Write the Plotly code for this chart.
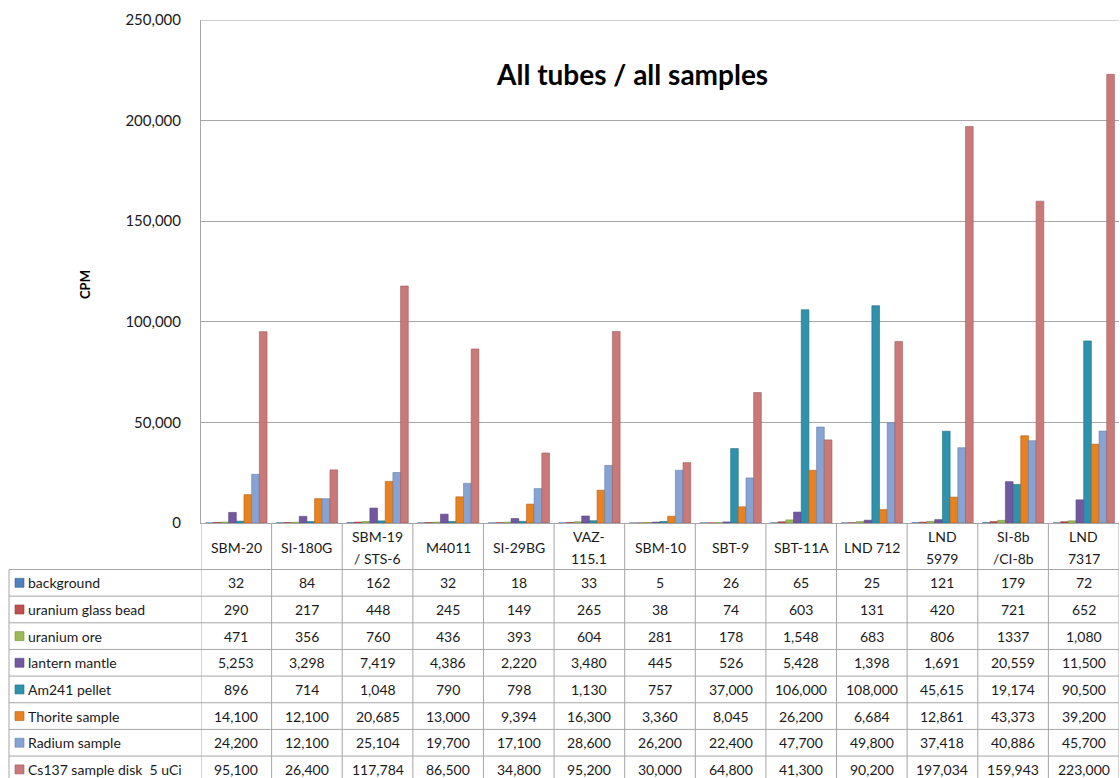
import plotly.graph_objects as go

W, H = 1120, 778

categories = ["SBM-20", "SI-180G", "SBM-19\n/ STS-6", "M4011", "SI-29BG", "VAZ-\n115.1",
              "SBM-10", "SBT-9", "SBT-11A", "LND 712", "LND\n5979", "SI-8b\n/CI-8b", "LND\n7317"]

series_names = ["background", "uranium glass bead", "uranium ore", "lantern mantle",
                "Am241 pellet", "Thorite sample", "Radium sample", "Cs137 sample disk  5 uCi"]

background = [32, 84, 162, 32, 18, 33, 5, 26, 65, 25, 121, 179, 72]
uranium_glass_bead = [290, 217, 448, 245, 149, 265, 38, 74, 603, 131, 420, 721, 652]
uranium_ore = [471, 356, 760, 436, 393, 604, 281, 178, 1548, 683, 806, 1337, 1080]
lantern_mantle = [5253, 3298, 7419, 4386, 2220, 3480, 445, 526, 5428, 1398, 1691, 20559, 11500]
am241_pellet = [896, 714, 1048, 790, 798, 1130, 757, 37000, 106000, 108000, 45615, 19174, 90500]
thorite_sample = [14100, 12100, 20685, 13000, 9394, 16300, 3360, 8045, 26200, 6684, 12861, 43373, 39200]
radium_sample = [24200, 12100, 25104, 19700, 17100, 28600, 26200, 22400, 47700, 49800, 37418, 40886, 45700]
cs137_disk = [95100, 26400, 117784, 86500, 34800, 95200, 30000, 64800, 41300, 90200, 197034, 159943, 223000]

series_values = [background, uranium_glass_bead, uranium_ore, lantern_mantle,
                 am241_pellet, thorite_sample, radium_sample, cs137_disk]

# cells shown without thousands separator in the source table
plain_cells = {(2, 11)}

colors = ["#4F81BD", "#C0504D", "#9BBB59", "#7358A0", "#2E92AD", "#E8811F", "#86A3D4", "#C97A78"]
edge = ["#3A6396", "#953B39", "#76913F", "#5A4480", "#206F84", "#B4621A", "#6580AE", "#9E5A59"]

y_ticks = [0, 50000, 100000, 150000, 200000, 250000]

FONT = "Lato"
GRID = "#A6A6A6"

x_keys = [c.replace("\n", " ") for c in categories]

fig = go.Figure()
for name, vals, c, e in zip(series_names, series_values, colors, edge):
    fig.add_trace(go.Bar(x=x_keys, y=vals, name=name, marker=dict(color=c, line=dict(color=e, width=0.6)),
                         showlegend=False))

def py(p):
    return 1 - p / H

x0_px, x1_px = 201, 1119
axis_top, axis_bot = 20, 523
head_bot = 569.5
row_h = 26.65
left_px = 9

fig.update_layout(
    width=W, height=H, margin=dict(l=0, r=0, t=0, b=0, autoexpand=False),
    paper_bgcolor="white", plot_bgcolor="white",
    barmode="group", bargap=0.13, bargroupgap=0,
    font=dict(family=FONT, size=14, color="#1a1a1a"),
    xaxis=dict(domain=[x0_px / W, x1_px / W], showticklabels=False, showline=True,
               linecolor=GRID, linewidth=1, ticks="", showgrid=False, fixedrange=True,
               automargin=False, range=[-0.5, len(categories) - 0.5]),
    yaxis=dict(domain=[py(axis_bot), py(axis_top)], range=[0, 250000], tickvals=y_ticks,
               tickformat=",", showgrid=True, gridcolor=GRID, gridwidth=1, zeroline=False,
               showline=True, linecolor=GRID, linewidth=1, ticks="", ticklabelstandoff=16,
               automargin=False, tickfont=dict(size=15, color="#1a1a1a", family=FONT)),
)

shapes = []
annotations = []

# top grid line at 250,000
shapes.append(dict(type="line", xref="paper", yref="y", x0=x0_px / W, x1=x1_px / W, y0=250000, y1=250000,
                   line=dict(color=GRID, width=1)))

# title
annotations.append(dict(text="<b>All tubes / all samples</b>", xref="paper", yref="paper",
                        x=632 / W, y=py(74), showarrow=False, xanchor="center", yanchor="middle",
                        font=dict(size=28, family=FONT, color="#000")))
# y title
annotations.append(dict(text="<b>CPM</b>", xref="paper", yref="paper", x=85 / W, y=py(285),
                        textangle=-90, showarrow=False, xanchor="center", yanchor="middle",
                        font=dict(size=13, family=FONT, color="#000")))

n_rows = len(series_names)
bottom_px = head_bot + row_h * n_rows

# vertical separators (category boundaries)
for k in range(len(categories) + 1):
    shapes.append(dict(type="line", xref="x", yref="paper", x0=k - 0.5, x1=k - 0.5,
                       y0=py(axis_bot), y1=py(bottom_px), line=dict(color=GRID, width=1)))
# left border of table
shapes.append(dict(type="line", xref="paper", yref="paper", x0=left_px / W, x1=left_px / W,
                   y0=py(head_bot), y1=py(bottom_px), line=dict(color=GRID, width=1)))
# horizontal row borders
for r in range(n_rows + 1):
    yy = py(head_bot + r * row_h)
    shapes.append(dict(type="line", xref="paper", yref="paper", x0=left_px / W, x1=x1_px / W,
                       y0=yy, y1=yy, line=dict(color=GRID, width=1)))

# category labels in header row
head_mid = (axis_bot + head_bot) / 2
for key, cat in zip(x_keys, categories):
    lines = cat.split("\n")
    if len(lines) == 1:
        annotations.append(dict(text=lines[0], xref="x", yref="paper", x=key, y=py(head_mid + 1),
                                showarrow=False, xanchor="center", yanchor="middle",
                                font=dict(size=14, family=FONT, color="#1a1a1a")))
    else:
        for j, ln in enumerate(lines):
            annotations.append(dict(text=ln, xref="x", yref="paper", x=key,
                                    y=py(head_mid + 1 + (j - 0.5) * 22),
                                    showarrow=False, xanchor="center", yanchor="middle",
                                    font=dict(size=14, family=FONT, color="#1a1a1a")))

# table body
for i, (name, vals, c, e) in enumerate(zip(series_names, series_values, colors, edge)):
    cy = head_bot + (i + 0.5) * row_h
    shapes.append(dict(type="rect", xref="paper", yref="paper", x0=15 / W, x1=24 / W,
                       y0=py(cy - 4.5), y1=py(cy + 4.5), fillcolor=c, line=dict(color=e, width=0.6)))
    annotations.append(dict(text=name.replace("  ", "&nbsp; "), xref="paper", yref="paper", x=26 / W,
                            y=py(cy), showarrow=False, xanchor="left", yanchor="middle",
                            font=dict(size=14, family=FONT, color="#1a1a1a")))
    for j, (key, v) in enumerate(zip(x_keys, vals)):
        txt = str(v) if (i, j) in plain_cells else f"{v:,}"
        annotations.append(dict(text=txt, xref="x", yref="paper", x=key, y=py(cy),
                                showarrow=False, xanchor="center", yanchor="middle",
                                font=dict(size=14, family=FONT, color="#1a1a1a")))

fig.update_layout(shapes=shapes, annotations=annotations)
fig.write_html("out.html")
